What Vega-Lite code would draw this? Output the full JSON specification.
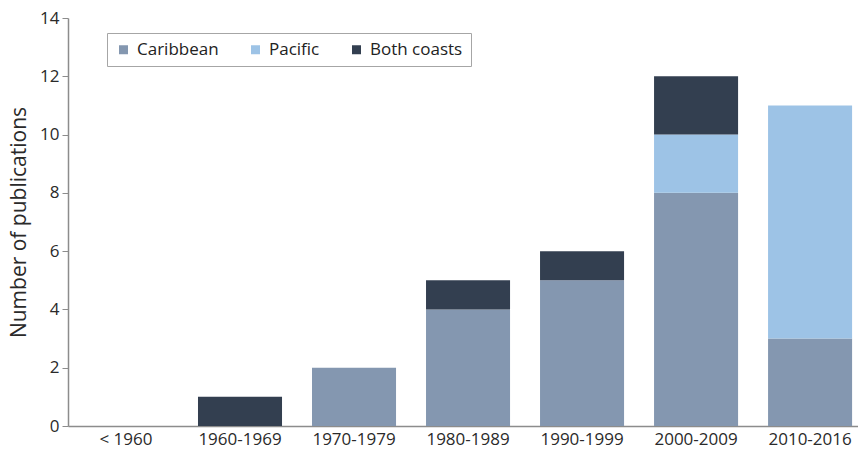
{
  "$schema": "https://vega.github.io/schema/vega-lite/v6.json",
  "width": 790,
  "height": 408,
  "autosize": {"type": "none"},
  "padding": {"left": 68, "top": 18, "right": 0, "bottom": 26},
  "background": "white",
  "config": {
    "font": "Open Sans",
    "view": {"stroke": null},
    "axis": {"domainColor": "#8c8c8c", "tickColor": "#8c8c8c", "labelColor": "#2a2a2a", "titleColor": "#2a2a2a", "grid": false}
  },
  "data": {
    "values": [
      {"period": "< 1960", "region": "Caribbean", "count": 0},
      {"period": "1960-1969", "region": "Both coasts", "count": 1},
      {"period": "1970-1979", "region": "Caribbean", "count": 2},
      {"period": "1980-1989", "region": "Caribbean", "count": 4},
      {"period": "1980-1989", "region": "Both coasts", "count": 1},
      {"period": "1990-1999", "region": "Caribbean", "count": 5},
      {"period": "1990-1999", "region": "Both coasts", "count": 1},
      {"period": "2000-2009", "region": "Caribbean", "count": 8},
      {"period": "2000-2009", "region": "Pacific", "count": 2},
      {"period": "2000-2009", "region": "Both coasts", "count": 2},
      {"period": "2010-2016", "region": "Caribbean", "count": 3},
      {"period": "2010-2016", "region": "Pacific", "count": 8}
    ]
  },
  "transform": [
    {"calculate": "indexof(['Caribbean', 'Pacific', 'Both coasts'], datum.region)", "as": "stackOrder"}
  ],
  "mark": {"type": "bar"},
  "encoding": {
    "x": {
      "field": "period", "type": "nominal", "sort": null,
      "scale": {"paddingInner": 0.263, "paddingOuter": 0.096, "align": 0.73},
      "axis": {"title": null, "labelAngle": 0, "labelFontSize": 17, "ticks": false, "labelPadding": 5, "domainWidth": 1.5}
    },
    "y": {
      "field": "count", "type": "quantitative", "stack": "zero",
      "scale": {"domain": [0, 14], "nice": false},
      "axis": {"title": "Number of publications", "titleFontSize": 21, "titleFontWeight": "normal", "titlePadding": 10, "values": [0, 2, 4, 6, 8, 10, 12, 14], "labelFontSize": 17, "tickSize": 6, "labelPadding": 3, "domainWidth": 1.5}
    },
    "order": {"field": "stackOrder", "type": "quantitative", "sort": "ascending"},
    "color": {
      "field": "region", "type": "nominal",
      "sort": ["Caribbean", "Pacific", "Both coasts"],
      "scale": {"domain": ["Caribbean", "Pacific", "Both coasts"], "range": ["#8497b0", "#9dc3e6", "#333f50"]},
      "legend": {
        "title": null, "orient": "none", "legendX": 39, "legendY": 15,
        "direction": "horizontal", "symbolType": "square", "symbolSize": 81,
        "symbolStrokeWidth": 0, "labelFontSize": 17, "labelColor": "#222222",
        "labelOffset": 5, "columnPadding": 28, "padding": 8,
        "strokeColor": "#a6a6a6"
      }
    }
  }
}
